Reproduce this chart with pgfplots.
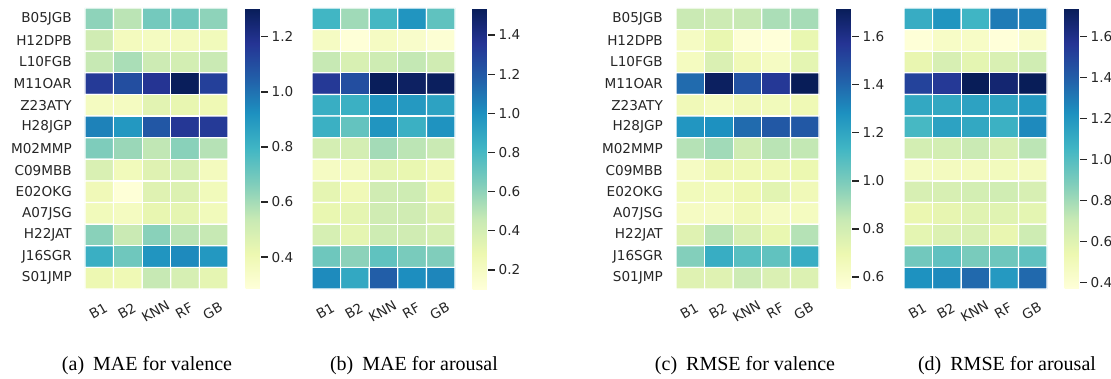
\documentclass[border=0pt]{standalone}
\usepackage{fontspec}
\setmainfont{Liberation Serif}
\newfontfamily\dejavu{DejaVu Sans}
\usepackage{pgfplots}
\pgfplotsset{compat=1.18}
\definecolor{lbl}{RGB}{38,38,38}
\newcommand{\tickfont}{\dejavu\fontsize{13.6}{16}\selectfont}
\pgfplotsset{
  colormap={ylgnbu}{rgb255=(255,255,217) rgb255=(237,248,177) rgb255=(199,233,180) rgb255=(127,205,187) rgb255=(65,182,196) rgb255=(29,145,192) rgb255=(34,94,168) rgb255=(37,52,148) rgb255=(8,29,88)},
  hm/.style={
    width=143pt, height=281pt, scale only axis,
    anchor=north west,
    colormap name=ylgnbu,
    xmin=-0.5, xmax=4.5, ymin=-0.5, ymax=12.5,
    y dir=reverse,
    axis line style={draw=none},
    major tick length=0pt,
    xtick={0,...,4}, xticklabels={B1,B2,KNN,RF,GB},
    tick label style={font=\tickfont, text=lbl, inner sep=0pt},
    xticklabel style={yshift=-22pt, xshift=-1pt, rotate=30, anchor=center},
    yticklabel style={anchor=east, xshift=-13pt},
    colorbar right,
    colorbar style={
      at={(parent axis.north east)}, anchor=north west, xshift=9pt,
      width=15pt, height=281pt, scale only axis,
      axis line style={draw=none},
      tick align=outside, ytick pos=right,
      major tick length=7pt,
      major tick style={lbl, line width=1.2pt},
      yticklabel style={font=\tickfont, text=lbl, inner sep=0pt, anchor=west, xshift=4pt,
        /pgf/number format/fixed, /pgf/number format/fixed zerofill,
        /pgf/number format/precision=1, /pgf/number format/assume math mode=true},
    },
  },
  ylab/.style={ytick={0,...,12}, yticklabels={B05JGB,H12DPB,L10FGB,M11OAR,Z23ATY,H28JGP,M02MMP,C09MBB,E02OKG,A07JSG,H22JAT,J16SGR,S01JMP}},
  nolab/.style={ytick=\empty},
  cell/.style={matrix plot*, mesh/cols=5, point meta=explicit, draw=white, line width=1.2pt},
}
\begin{document}
\begin{tikzpicture}
\useasboundingbox (0,0) rectangle (1111pt,-379pt);
% (a) MAE valence
\begin{axis}[hm, ylab, at={(85pt,-8pt)}, point meta min=0.284, point meta max=1.305,
  colorbar style={ytick={0.4,0.6,0.8,1.0,1.2}}]
\addplot[cell] coordinates {
(0,0)[0.64] (1,0)[0.56] (2,0)[0.69] (3,0)[0.70] (4,0)[0.64]
(0,1)[0.51] (1,1)[0.37] (2,1)[0.36] (3,1)[0.37] (4,1)[0.38]
(0,2)[0.54] (1,2)[0.59] (2,2)[0.52] (3,2)[0.50] (4,2)[0.53]
(0,3)[1.16] (1,3)[1.10] (2,3)[1.18] (3,3)[1.30] (4,3)[1.14]
(0,4)[0.36] (1,4)[0.36] (2,4)[0.45] (3,4)[0.43] (4,4)[0.40]
(0,5)[0.96] (1,5)[0.90] (2,5)[1.07] (3,5)[1.17] (4,5)[1.16]
(0,6)[0.67] (1,6)[0.62] (2,6)[0.55] (3,6)[0.65] (4,6)[0.57]
(0,7)[0.48] (1,7)[0.38] (2,7)[0.46] (3,7)[0.49] (4,7)[0.37]
(0,8)[0.39] (1,8)[0.29] (2,8)[0.46] (3,8)[0.47] (4,8)[0.38]
(0,9)[0.38] (1,9)[0.36] (2,9)[0.43] (3,9)[0.44] (4,9)[0.38]
(0,10)[0.65] (1,10)[0.53] (2,10)[0.65] (3,10)[0.56] (4,10)[0.54]
(0,11)[0.82] (1,11)[0.70] (2,11)[0.91] (3,11)[0.94] (4,11)[0.90]
(0,12)[0.41] (1,12)[0.40] (2,12)[0.54] (3,12)[0.49] (4,12)[0.44]
};
\end{axis}
% (b) MAE arousal
\begin{axis}[hm, nolab, at={(312pt,-8pt)}, point meta min=0.103, point meta max=1.538,
  colorbar style={ytick={0.2,0.4,0.6,0.8,1.0,1.2,1.4}}]
\addplot[cell] coordinates {
(0,0)[0.82] (1,0)[0.56] (2,0)[0.81] (3,0)[0.98] (4,0)[0.73]
(0,1)[0.20] (1,1)[0.11] (2,1)[0.20] (3,1)[0.17] (4,1)[0.13]
(0,2)[0.46] (1,2)[0.38] (2,2)[0.43] (3,2)[0.47] (4,2)[0.42]
(0,3)[1.34] (1,3)[1.25] (2,3)[1.53] (3,3)[1.51] (4,3)[1.52]
(0,4)[0.86] (1,4)[0.85] (2,4)[0.98] (3,4)[0.96] (4,4)[0.92]
(0,5)[0.85] (1,5)[0.72] (2,5)[0.98] (3,5)[0.85] (4,5)[0.99]
(0,6)[0.40] (1,6)[0.40] (2,6)[0.55] (3,6)[0.49] (4,6)[0.45]
(0,7)[0.20] (1,7)[0.22] (2,7)[0.32] (3,7)[0.30] (4,7)[0.25]
(0,8)[0.32] (1,8)[0.25] (2,8)[0.42] (3,8)[0.43] (4,8)[0.29]
(0,9)[0.30] (1,9)[0.32] (2,9)[0.42] (3,9)[0.42] (4,9)[0.35]
(0,10)[0.39] (1,10)[0.32] (2,10)[0.43] (3,10)[0.42] (4,10)[0.39]
(0,11)[0.69] (1,11)[0.61] (2,11)[0.73] (3,11)[0.66] (4,11)[0.64]
(0,12)[1.02] (1,12)[0.89] (2,12)[1.18] (3,12)[1.01] (4,12)[1.04]
};
\end{axis}
% (c) RMSE valence
\begin{axis}[hm, ylab, at={(676pt,-8pt)}, point meta min=0.55, point meta max=1.72,
  colorbar style={ytick={0.6,0.8,1.0,1.2,1.4,1.6}}]
\addplot[cell] coordinates {
(0,0)[0.83] (1,0)[0.82] (2,0)[0.84] (3,0)[0.90] (4,0)[0.91]
(0,1)[0.63] (1,1)[0.71] (2,1)[0.57] (3,1)[0.55] (4,1)[0.71]
(0,2)[0.64] (1,2)[0.77] (2,2)[0.67] (3,2)[0.63] (4,2)[0.73]
(0,3)[1.39] (1,3)[1.70] (2,3)[1.47] (3,3)[1.56] (4,3)[1.72]
(0,4)[0.67] (1,4)[0.64] (2,4)[0.67] (3,4)[0.66] (4,4)[0.68]
(0,5)[1.26] (1,5)[1.28] (2,5)[1.39] (3,5)[1.45] (4,5)[1.45]
(0,6)[0.88] (1,6)[0.92] (2,6)[0.81] (3,6)[0.87] (4,6)[0.85]
(0,7)[0.63] (1,7)[0.69] (2,7)[0.68] (3,7)[0.68] (4,7)[0.70]
(0,8)[0.66] (1,8)[0.66] (2,8)[0.69] (3,8)[0.74] (4,8)[0.67]
(0,9)[0.63] (1,9)[0.63] (2,9)[0.67] (3,9)[0.63] (4,9)[0.64]
(0,10)[0.75] (1,10)[0.87] (2,10)[0.78] (3,10)[0.71] (4,10)[0.88]
(0,11)[0.98] (1,11)[1.17] (2,11)[1.08] (3,11)[1.06] (4,11)[1.17]
(0,12)[0.75] (1,12)[0.75] (2,12)[0.82] (3,12)[0.77] (4,12)[0.76]
};
\end{axis}
% (d) RMSE arousal
\begin{axis}[hm, nolab, at={(904pt,-8pt)}, point meta min=0.37, point meta max=1.74,
  colorbar style={ytick={0.4,0.6,0.8,1.0,1.2,1.4,1.6}}]
\addplot[cell] coordinates {
(0,0)[1.10] (1,0)[1.21] (2,0)[1.06] (3,0)[1.30] (4,0)[1.28]
(0,1)[0.38] (1,1)[0.45] (2,1)[0.45] (3,1)[0.37] (4,1)[0.44]
(0,2)[0.56] (1,2)[0.64] (2,2)[0.58] (3,2)[0.63] (4,2)[0.67]
(0,3)[1.51] (1,3)[1.55] (2,3)[1.74] (3,3)[1.67] (4,3)[1.74]
(0,4)[1.12] (1,4)[1.12] (2,4)[1.15] (3,4)[1.14] (4,4)[1.19]
(0,5)[1.04] (1,5)[1.15] (2,5)[1.12] (3,5)[1.08] (4,5)[1.25]
(0,6)[0.66] (1,6)[0.66] (2,6)[0.70] (3,6)[0.64] (4,6)[0.74]
(0,7)[0.47] (1,7)[0.48] (2,7)[0.48] (3,7)[0.49] (4,7)[0.48]
(0,8)[0.64] (1,8)[0.64] (2,8)[0.66] (3,8)[0.67] (4,8)[0.64]
(0,9)[0.55] (1,9)[0.57] (2,9)[0.60] (3,9)[0.60] (4,9)[0.58]
(0,10)[0.58] (1,10)[0.62] (2,10)[0.63] (3,10)[0.56] (4,10)[0.68]
(0,11)[0.92] (1,11)[0.97] (2,11)[0.90] (3,11)[0.93] (4,11)[0.97]
(0,12)[1.22] (1,12)[1.25] (2,12)[1.36] (3,12)[1.19] (4,12)[1.36]
};
\end{axis}
\begin{scope}[every node/.style={font=\fontsize{20}{24}\selectfont, anchor=base, inner sep=0pt}]
\node at (147pt,-370pt) {(a)\hspace{9pt}MAE for valence};
\node at (414pt,-370pt) {(b)\hspace{9pt}MAE for arousal};
\node at (745pt,-370pt) {(c)\hspace{9pt}RMSE for valence};
\node at (1007pt,-370pt) {(d)\hspace{9pt}RMSE for arousal};
\end{scope}
\end{tikzpicture}
\end{document}
